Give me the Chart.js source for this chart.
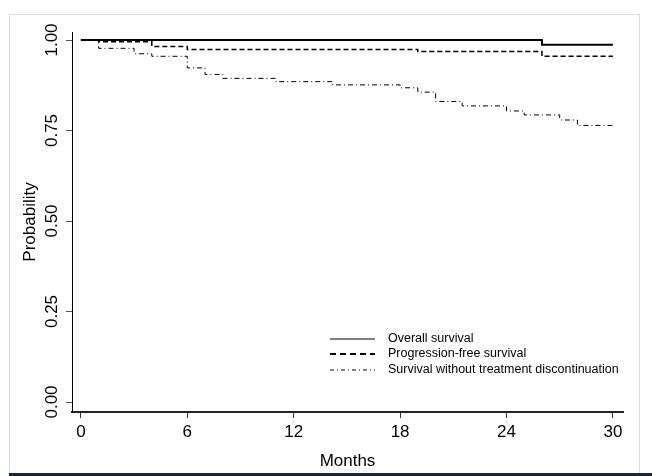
<!DOCTYPE html>
<html>
<head>
<meta charset="utf-8">
<script src="https://cdn.jsdelivr.net/npm/chart.js@4/dist/chart.umd.min.js"></script>
<style>
  body { margin: 0; background: #fff; }
  #wrap { position: relative; width: 652px; height: 476px; overflow: hidden; }
  #frame { position: absolute; left: 9px; top: 14px; width: 629px; height: 460px; border: 1px solid #dcdcdc; border-bottom: none; }
  #bar { position: absolute; left: 9px; top: 473px; width: 643px; height: 3px; background: #1b2833; }
  canvas { position: absolute; left: 0; top: 0; }
</style>
</head>
<body>
<div id="wrap">
  <div id="frame"></div>
  <canvas id="chart1" width="652" height="476"></canvas>
  <div id="bar"></div>
</div>
<script>
// Kaplan-Meier estimates (months, probability)
var osMonths = [0, 26, 30];
var osProb = [1.0, 0.987, 0.987];

var pfsMonths = [0, 1, 4, 6, 19, 26, 30];
var pfsProb = [1.0, 0.995, 0.982, 0.974, 0.968, 0.955, 0.955];

var stdMonths = [0, 1, 3, 4, 6, 7, 8, 11, 14.2, 18, 19, 20, 21.5, 24, 25, 27, 28, 30];
var stdProb = [1.0, 0.977, 0.962, 0.955, 0.923, 0.905, 0.894, 0.885, 0.876, 0.868, 0.856, 0.830, 0.818, 0.804, 0.793, 0.779, 0.764, 0.764];

var seriesNames = ['Overall survival', 'Progression-free survival', 'Survival without treatment discontinuation'];
var xTicks = [0, 6, 12, 18, 24, 30];
var yTicks = [0, 0.25, 0.5, 0.75, 1.0];

function pts(xs, ys) {
    return xs.map(function(x, i) { return {x: x, y: ys[i]}; });
}

var font = 'Liberation Sans, Arial, sans-serif';

// legend drawn inside the plot area, lower right
var insideLegend = {
    id: 'insideLegend',
    afterDraw: function(chart) {
        var ctx = chart.ctx;
        var rows = [339, 354, 370];
        ctx.save();
        chart.data.datasets.forEach(function(ds, i) {
            ctx.beginPath();
            ctx.setLineDash(ds.legendDash);
            ctx.lineWidth = ds.legendWidth;
            ctx.strokeStyle = '#000';
            ctx.moveTo(330, rows[i]);
            ctx.lineTo(375, rows[i]);
            ctx.stroke();
            ctx.setLineDash([]);
            ctx.fillStyle = '#000';
            ctx.font = '12.5px ' + font;
            ctx.textBaseline = 'middle';
            ctx.textAlign = 'left';
            ctx.fillText(ds.label, 388, rows[i]);
        });
        ctx.restore();
    }
};

var ctx = document.getElementById('chart1').getContext('2d');
var myChart = new Chart(ctx, {
    type: 'line',
    data: {
        datasets: [{
            label: seriesNames[0],
            data: pts(osMonths, osProb),
            borderColor: '#000',
            borderWidth: 2,
            stepped: true,
            pointRadius: 0,
            legendDash: [],
            legendWidth: 1
        }, {
            label: seriesNames[1],
            data: pts(pfsMonths, pfsProb),
            borderColor: '#000',
            borderWidth: 1.5,
            borderDash: [5, 3],
            stepped: true,
            pointRadius: 0,
            legendDash: [6, 4],
            legendWidth: 2
        }, {
            label: seriesNames[2],
            data: pts(stdMonths, stdProb),
            borderColor: '#000',
            borderWidth: 1,
            borderDash: [5, 3, 1, 3],
            stepped: true,
            pointRadius: 0,
            legendDash: [4, 3, 1, 3],
            legendWidth: 1
        }]
    },
    options: {
        responsive: false,
        animation: false,
        layout: { padding: { top: 32, right: 29, left: 0, bottom: 0 } },
        plugins: {
            legend: { display: false },
            tooltip: { enabled: false }
        },
        scales: {
            x: {
                type: 'linear',
                min: -0.5,
                max: 30.57,
                afterFit: function(s) { s.height = 64; },
                afterBuildTicks: function(s) { s.ticks = xTicks.map(function(v) { return {value: v}; }); },
                grid: { drawOnChartArea: false, drawTicks: true, tickLength: 6, color: '#333', lineWidth: 1 },
                border: { color: '#222', width: 2 },
                ticks: { color: '#000', font: { family: font, size: 17 }, padding: 4, maxRotation: 0, autoSkip: false },
                title: { display: true, text: 'Months', color: '#000', font: { family: font, size: 17 }, padding: { bottom: 4, top: 0 } }
            },
            y: {
                type: 'linear',
                min: -0.0276,
                max: 1.0221,
                afterFit: function(s) { s.width = 72; },
                afterBuildTicks: function(s) { s.ticks = yTicks.map(function(v) { return {value: v}; }); },
                grid: { drawOnChartArea: false, drawTicks: true, tickLength: 6, color: '#555', lineWidth: 1 },
                border: { color: '#000', width: 1 },
                ticks: {
                    color: '#000',
                    font: { family: font, size: 17 },
                    padding: -3,
                    minRotation: 90,
                    maxRotation: 90,
                    crossAlign: 'center',
                    callback: function(v) { return Number(v).toFixed(2); }
                },
                title: { display: true, text: 'Probability', color: '#000', font: { family: font, size: 17 }, padding: { top: 20, bottom: 0 } }
            }
        }
    },
    plugins: [insideLegend]
});
</script>
</body>
</html>
